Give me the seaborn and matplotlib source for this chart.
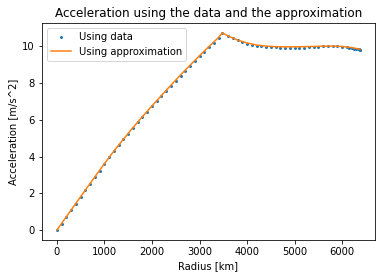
import matplotlib
matplotlib.use("Agg")
import matplotlib.pyplot as plt
import seaborn as sns
import pandas as pd

radius_data = [0, 100, 200, 300, 400, 500, 600, 700, 800, 900, 1000, 1100, 1200,
               1300, 1400, 1500, 1600, 1700, 1800, 1900, 2000, 2100, 2200, 2300,
               2400, 2500, 2600, 2700, 2800, 2900, 3000, 3100, 3200, 3300, 3400,
               3480, 3600, 3700, 3800, 3900, 4000, 4100, 4200, 4300, 4400, 4500,
               4600, 4700, 4800, 4900, 5000, 5100, 5200, 5300, 5400, 5500, 5600,
               5700, 5800, 5900, 6000, 6100, 6151, 6200, 6251, 6291, 6331, 6346,
               6356, 6368, 6371]
accel_data = [0.00, 0.36, 0.72, 1.08, 1.44, 1.80, 2.16, 2.52, 2.88, 3.24, 3.60, 3.96,
              4.31, 4.63, 4.94, 5.25, 5.55, 5.85, 6.14, 6.43, 6.72, 7.01, 7.29, 7.57,
              7.85, 8.12, 8.39, 8.66, 8.92, 9.18, 9.44, 9.69, 9.94, 10.19, 10.44,
              10.72, 10.54, 10.42, 10.31, 10.22, 10.14, 10.08, 10.03, 9.99, 9.96,
              9.94, 9.93, 9.92, 9.92, 9.92, 9.92, 9.92, 9.92, 9.93, 9.94, 9.96,
              9.98, 9.99, 9.99, 9.98, 9.97, 9.94, 9.92, 9.89, 9.86, 9.85, 9.83,
              9.82, 9.82, 9.81, 9.81]

radius_approx = [0, 200, 400, 600, 800, 1000, 1200, 1400, 1600, 1800, 2000, 2200,
                 2400, 2600, 2800, 3000, 3200, 3400, 3480, 3600, 3800, 4000, 4200,
                 4400, 4600, 4800, 5000, 5200, 5400, 5600, 5800, 6000, 6200, 6371]
accel_approx = [0.00, 0.73, 1.46, 2.18, 2.90, 3.61, 4.30, 4.94, 5.57, 6.17, 6.75,
                7.32, 7.88, 8.43, 8.96, 9.48, 9.98, 10.47, 10.72, 10.55, 10.33,
                10.17, 10.06, 10.00, 9.97, 9.96, 9.96, 9.97, 9.98, 10.00, 10.00,
                9.98, 9.92, 9.83]

df_data = pd.DataFrame({"r": radius_data, "g": accel_data})
df_approx = pd.DataFrame({"r": radius_approx, "g": accel_approx})

fig = plt.figure(figsize=(386 / 72, 278 / 72), dpi=72)
ax = fig.add_axes([41.7 / 386, 38 / 278, 333.3 / 386, 217 / 278])

sns.scatterplot(data=df_data, x="r", y="g", ax=ax, color="#1f77b4", s=9,
                marker="o", linewidth=0, label="Using data")
sns.lineplot(data=df_approx, x="r", y="g", ax=ax, color="#ff7f0e", linewidth=1.5,
             label="Using approximation")

ax.set_title("Acceleration using the data and the approximation", fontsize=12)
ax.set_xlabel("Radius [km]", fontsize=10)
ax.set_ylabel("Acceleration [m/s^2]", fontsize=10)
ax.set_xticks([0, 1000, 2000, 3000, 4000, 5000, 6000])
ax.set_yticks([0, 2, 4, 6, 8, 10])
ax.tick_params(labelsize=10)
ax.legend(loc="upper left", fontsize=10)

fig.savefig("out.png", dpi=72)
